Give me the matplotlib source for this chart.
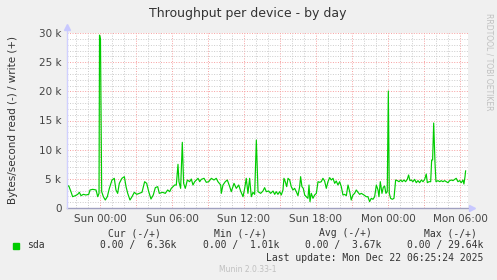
import matplotlib
matplotlib.use("Agg")
import matplotlib.pyplot as plt
import numpy as np

# hours since Sun 00:00, write throughput in kB/s (read side is all zero)
hours = [-2.83, -2.61, -2.42, -2.28, -2.06, -1.86, -1.72, -1.58, -1.39, -1.17,
         -0.94, -0.83, -0.61, -0.33, -0.19, -0.08, -0.04, 0.04, 0.14, 0.28,
         0.44, 0.61, 0.78, 1.0, 1.19, 1.33, 1.47, 1.61, 1.83, 2.03,
         2.17, 2.31, 2.5, 2.67, 2.86, 3.06, 3.28, 3.5, 3.72, 3.89,
         4.06, 4.25, 4.44, 4.61, 4.81, 4.94, 5.22, 5.44, 5.64, 5.81,
         5.94, 6.08, 6.22, 6.36, 6.5, 6.58, 6.72, 6.86, 6.97, 7.11,
         7.28, 7.47, 7.61, 7.75, 7.89, 8.17, 8.31, 8.44, 8.67, 8.86,
         9.06, 9.28, 9.5, 9.69, 9.83, 10.06, 10.11, 10.25, 10.44, 10.61,
         10.81, 10.94, 11.17, 11.36, 11.56, 11.72, 11.92, 12.06, 12.19, 12.33,
         12.47, 12.61, 12.75, 12.89, 13.03, 13.17, 13.39, 13.58, 13.72, 13.86,
         14.06, 14.22, 14.42, 14.56, 14.69, 14.83, 14.97, 15.11, 15.25, 15.33,
         15.44, 15.56, 15.67, 15.81, 15.94, 16.08, 16.22, 16.36, 16.5, 16.64,
         16.72, 16.83, 16.94, 17.06, 17.19, 17.33, 17.42, 17.5, 17.61, 17.75,
         17.89, 18.03, 18.17, 18.31, 18.44, 18.58, 18.72, 18.86, 19.0, 19.14,
         19.28, 19.42, 19.56, 19.69, 19.83, 19.97, 20.11, 20.25, 20.39, 20.53,
         20.67, 20.81, 20.94, 21.08, 21.22, 21.36, 21.5, 21.64, 21.78, 22.0,
         22.19, 22.33, 22.47, 22.61, 22.75, 22.89, 23.03, 23.17, 23.25, 23.36,
         23.5, 23.61, 23.72, 23.83, 23.94, 24.03, 24.11, 24.22, 24.36, 24.5,
         24.64, 24.78, 24.92, 25.06, 25.19, 25.33, 25.47, 25.61, 25.72, 25.83,
         25.94, 26.08, 26.22, 26.36, 26.5, 26.64, 26.78, 26.92, 27.06, 27.19,
         27.28, 27.42, 27.56, 27.64, 27.72, 27.81, 27.92, 28.0, 28.17, 28.31,
         28.44, 28.58, 28.72, 28.86, 29.0, 29.14, 29.28, 29.42, 29.56, 29.69,
         29.83, 29.97, 30.11, 30.25, 30.33, 30.42, 30.47]
write_k = [3.37, 3.83, 2.80, 1.94, 2.11, 2.34, 2.69, 2.11, 2.34, 2.23,
           2.34, 3.09, 3.20, 3.09, 1.94, 2.51, 29.64, 29.0, 2.80, 1.94,
           1.37, 1.94, 3.37, 4.80, 5.09, 3.09, 2.51, 4.23, 5.09, 5.37,
           3.66, 2.51, 1.37, 1.94, 2.69, 2.34, 2.51, 2.69, 4.51, 4.23,
           2.80, 1.54, 2.23, 3.49, 3.66, 2.51, 2.69, 2.51, 3.09, 2.80,
           3.37, 3.66, 3.94, 3.94, 7.49, 4.51, 3.37, 11.26, 4.23, 3.37,
           4.80, 4.51, 4.97, 3.94, 4.51, 5.09, 4.51, 4.91, 5.09, 4.40,
           4.51, 5.09, 4.80, 5.09, 4.51, 3.94, 2.51, 3.94, 4.51, 4.80,
           3.66, 2.80, 4.23, 3.37, 3.94, 2.91, 1.94, 3.37, 5.09, 2.51,
           5.09, 1.94, 2.69, 2.34, 11.66, 2.80, 2.51, 2.91, 3.49, 2.80,
           2.91, 2.51, 2.91, 2.34, 2.80, 2.34, 2.80, 2.23, 3.09, 5.09,
           4.51, 3.66, 5.09, 4.80, 3.66, 3.09, 3.37, 2.80, 2.11, 3.66,
           5.37, 3.66, 3.37, 2.23, 1.94, 1.66, 3.94, 1.09, 2.51, 1.66,
           2.23, 2.51, 4.51, 4.40, 4.51, 5.09, 4.63, 3.37, 4.51, 5.20,
           4.80, 5.09, 4.23, 4.63, 3.94, 4.51, 3.66, 2.23, 2.34, 2.11,
           3.94, 2.80, 1.37, 2.23, 2.51, 3.09, 2.69, 2.34, 2.51, 2.23,
           1.94, 1.94, 1.09, 1.66, 1.49, 1.94, 3.94, 3.09, 1.94, 4.51,
           2.51, 3.54, 3.77, 2.51, 2.80, 20.06, 2.51, 1.66, 1.49, 1.66,
           4.80, 4.69, 4.51, 4.80, 4.51, 4.80, 4.51, 4.91, 5.66, 4.69,
           4.80, 4.51, 4.91, 4.34, 4.69, 4.34, 4.80, 4.51, 4.91, 5.83,
           4.34, 4.51, 4.51, 8.23, 8.23, 14.57, 7.66, 4.51, 4.69, 4.51,
           4.69, 4.51, 4.69, 4.51, 4.34, 4.69, 4.80, 4.69, 4.91, 5.09,
           4.51, 4.69, 4.34, 4.80, 4.11, 5.37, 6.36]

tick_hours = [0, 6, 12, 18, 24, 30]
tick_labels = ["Sun 00:00", "Sun 06:00", "Sun 12:00", "Sun 18:00", "Mon 00:00", "Mon 06:00"]
y_ticks = [0, 5, 10, 15, 20, 25, 30]
y_labels = ["0", "5 k", "10 k", "15 k", "20 k", "25 k", "30 k"]

legend_heads = ["Cur (-/+)", "Min (-/+)", "Avg (-/+)", "Max (-/+)"]
legend_vals = ["0.00 /  6.36k", "0.00 /  1.01k", "0.00 /  3.67k", "0.00 / 29.64k"]

W, H = 497, 280
fig = plt.figure(figsize=(W / 100, H / 100), dpi=100, facecolor="#f0f0f0")
L, R, T, B = 67, 468, 33, 208
ax = fig.add_axes([L / W, 1 - B / H, (R - L) / W, (B - T) / H])
ax.set_facecolor("white")

xmin, xmax = -2.75, 30.67
ax.set_xlim(xmin, xmax)
ax.set_ylim(0, 30)

# grid: minor grey every hour / 1k, major red every 3h / 5k
dots = (0, (1.0, 1.6))
for h in np.arange(-2, 31, 1):
    col = "#f7a0a0" if h % 3 == 0 else "#cccccc"
    ax.axvline(h, color=col, lw=0.7, ls=dots, zorder=1)
for v in range(1, 31):
    col = "#f7a0a0" if v % 5 == 0 else "#cccccc"
    ax.axhline(v, color=col, lw=0.7, ls=dots, zorder=1)

ax.plot(hours, write_k, color="#00cc00", lw=0.85, zorder=3)

for s in ax.spines.values():
    s.set_visible(False)
ax.tick_params(length=0, labelsize=7.5, labelcolor="#444444", pad=4)
ax.set_xticks(tick_hours)
ax.set_xticklabels(tick_labels)
ax.set_yticks(y_ticks)
ax.set_yticklabels(y_labels)

# axes with arrows like rrdtool
ax.plot([xmin, xmax + 0.3], [0, 0], color="#a0a0c0", lw=1, clip_on=False, zorder=4)
ax.plot([xmin, xmin], [0, 31], color="#d0d0ff", lw=1, clip_on=False, zorder=4)
ax.plot([xmax + 0.3], [0], marker=">", color="#c8c8ff", ms=5, clip_on=False, zorder=4)
ax.plot([xmin], [31], marker="^", color="#c8c8ff", ms=5, clip_on=False, zorder=4)

fig.text(248 / W, 1 - 13 / H, "Throughput per device - by day", ha="center", va="center",
         fontsize=9, color="#333333")
fig.text(13 / W, 1 - 120 / H, "Bytes/second read (-) / write (+)", rotation=90,
         ha="center", va="center", fontsize=7.5, color="#333333")
fig.text(489 / W, 1 - 62 / H, "RRDTOOL / TOBI OETIKER", rotation=270,
         ha="center", va="center", fontsize=5.5, color="#c0c0c0")

# legend block
fig.patches.append(plt.Rectangle((13 / W, 1 - 249 / H), 6 / W, 6 / H,
                                 transform=fig.transFigure, color="#00cc00"))
fig.text(27 / W, 1 - 245 / H, "sda", ha="left", va="center", fontsize=7,
         family="DejaVu Sans Mono", color="#333333")
head_x = [134, 240, 345, 450]
val_x = [176, 279, 381, 483]
for hx, vx, hd, vl in zip(head_x, val_x, legend_heads, legend_vals):
    fig.text(hx / W, 1 - 233 / H, hd, ha="center", va="center", fontsize=7,
             family="DejaVu Sans Mono", color="#333333")
    fig.text(vx / W, 1 - 245 / H, vl, ha="right", va="center", fontsize=7,
             family="DejaVu Sans Mono", color="#333333")
fig.text(483 / W, 1 - 258 / H, "Last update: Mon Dec 22 06:25:24 2025", ha="right",
         va="center", fontsize=7, family="DejaVu Sans Mono", color="#333333")
fig.text(248 / W, 1 - 269 / H, "Munin 2.0.33-1", ha="center", va="center",
         fontsize=5.5, color="#c0c0c0")

fig.savefig("out.png", dpi=100, facecolor=fig.get_facecolor())
